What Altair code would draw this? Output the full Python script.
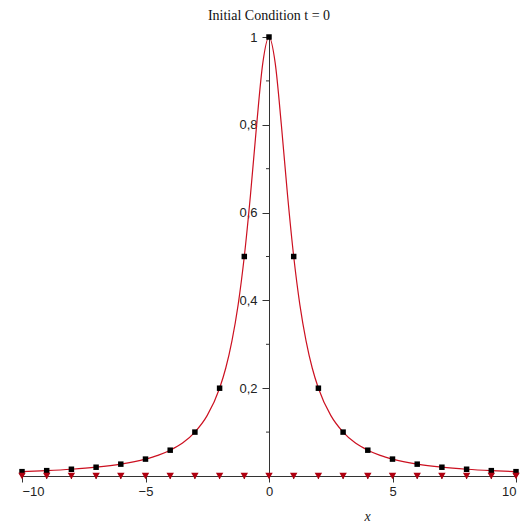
import altair as alt
import pandas as pd

# Sample points of the initial profile (integer grid)
grid_x = [-10, -9, -8, -7, -6, -5, -4, -3, -2, -1, 0, 1, 2, 3, 4, 5, 6, 7, 8, 9, 10]
grid_u = [0.0099, 0.0122, 0.0154, 0.02, 0.027, 0.0385, 0.0588, 0.1, 0.2, 0.5, 1.0,
          0.5, 0.2, 0.1, 0.0588, 0.0385, 0.027, 0.02, 0.0154, 0.0122, 0.0099]

# Continuous curve of the initial condition
curve_x = [-10, -9, -8, -7, -6, -5, -4.5, -4, -3.5, -3, -2.5, -2, -1.75, -1.5, -1.25, -1,
           -0.75, -0.5, -0.25, 0, 0.25, 0.5, 0.75, 1, 1.25, 1.5, 1.75, 2, 2.5, 3, 3.5,
           4, 4.5, 5, 6, 7, 8, 9, 10]
curve_u = [0.0099, 0.0122, 0.0154, 0.02, 0.027, 0.0385, 0.047, 0.0588, 0.075, 0.1, 0.138,
           0.2, 0.246, 0.308, 0.39, 0.5, 0.64, 0.8, 0.941, 1.0, 0.941, 0.8, 0.64, 0.5,
           0.39, 0.308, 0.246, 0.2, 0.138, 0.1, 0.075, 0.0588, 0.047, 0.0385, 0.027,
           0.02, 0.0154, 0.0122, 0.0099]

# Axis tick positions
x_major = [-10, -5, 0, 5, 10]
x_minor = [-9, -8, -7, -6, -4, -3, -2, -1, 1, 2, 3, 4, 6, 7, 8, 9]
y_major = [0.2, 0.4, 0.6, 0.8, 1.0]
y_minor = [0.1, 0.3, 0.5, 0.7, 0.9]

W, H = 494, 439
AXIS_COLOR = "#333333"
LABEL_FONT = "Liberation Sans"

grid = pd.DataFrame({"x": grid_x, "u": grid_u, "zero": [0.0] * len(grid_x)})
curve = pd.DataFrame({"x": curve_x, "u": curve_u})
xminor = pd.DataFrame({"x": x_minor})
yminor = pd.DataFrame({"u": y_minor})

x_scale = alt.Scale(domain=[-10, 10], nice=False, zero=False)
y_scale = alt.Scale(domain=[0, 1], nice=False)

x_enc = alt.X(
    "x:Q", scale=x_scale,
    axis=alt.Axis(values=x_major, format="d", tickSize=6, labelPadding=3,
                  domainColor=AXIS_COLOR, tickColor=AXIS_COLOR, labelColor="#222222",
                  labelFont=LABEL_FONT, labelFontSize=13, grid=False,
                  title="x", titleFont="Liberation Serif", titleFontStyle="italic",
                  titleFontWeight="normal", titleFontSize=14, titleColor="#222222",
                  titleX=345, titleY=44, titleBaseline="alphabetic"),
)

line = alt.Chart(curve).mark_line(color="#cc1020", strokeWidth=1.2,
                                  interpolate="monotone").encode(
    x=x_enc,
    y=alt.Y(
        "u:Q", scale=y_scale,
        axis=alt.Axis(values=y_major, tickSize=7, labelPadding=5, offset=-W / 2,
                      labelExpr="datum.value == 1 ? '1' : replace(format(datum.value, '.1f'), '.', ',')",
                      domainColor=AXIS_COLOR, tickColor=AXIS_COLOR, labelColor="#222222",
                      labelFont=LABEL_FONT, labelFontSize=13, grid=False, title=None),
    ),
)

squares = alt.Chart(grid).mark_point(shape="square", filled=True, color="black",
                                     size=30, opacity=1).encode(
    x=alt.X("x:Q", scale=x_scale), y=alt.Y("u:Q", scale=y_scale))

axis_dots = alt.Chart(grid).mark_point(shape="triangle-down", filled=True,
                                       color="#b00010", size=55, opacity=1,
                                       clip=False).encode(
    x=alt.X("x:Q", scale=x_scale), y=alt.Y("zero:Q", scale=y_scale))

x_minor_ticks = alt.Chart(xminor).mark_rule(color=AXIS_COLOR, y2Offset=3).encode(
    x=alt.X("x:Q", scale=x_scale), y=alt.datum(0, scale=y_scale), y2=alt.datum(0))

y_minor_ticks = alt.Chart(yminor).mark_rule(color=AXIS_COLOR, x2Offset=-3).encode(
    y=alt.Y("u:Q", scale=y_scale), x=alt.datum(0, scale=x_scale), x2=alt.datum(0))

chart = alt.layer(line, x_minor_ticks, y_minor_ticks, squares, axis_dots).properties(
    width=W, height=H,
    background="white",
    title=alt.TitleParams("Initial Condition t = 0", font="Liberation Serif",
                          fontSize=14, fontWeight="normal", color="#111111",
                          anchor="middle", offset=8),
    autosize=alt.AutoSizeParams(type="none"),
    padding={"left": 22, "top": 37, "right": 9, "bottom": 48},
).configure_view(stroke=None)

chart.save("out.html", embed_options={"renderer": "svg", "actions": False})
